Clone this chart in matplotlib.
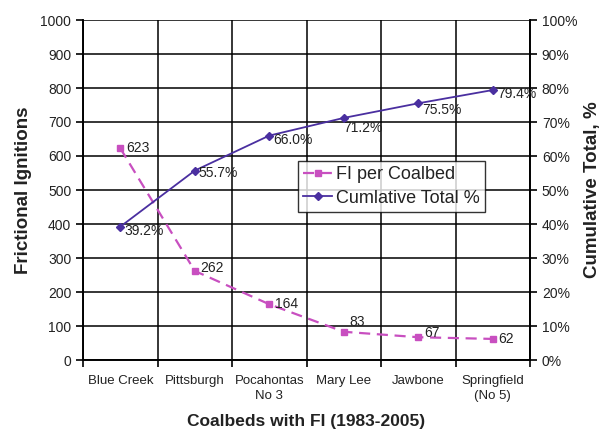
import matplotlib
matplotlib.use("Agg")
import matplotlib.pyplot as plt
from matplotlib.ticker import FixedLocator, FuncFormatter

plt.rcParams['font.family'] = ['Liberation Sans', 'DejaVu Sans']

categories = ["Blue Creek", "Pittsburgh", "Pocahontas\nNo 3", "Mary Lee", "Jawbone", "Springfield\n(No 5)"]
fi_per_coalbed = [623, 262, 164, 83, 67, 62]
cumulative_pct = [39.2, 55.7, 66.0, 71.2, 75.5, 79.4]
left_ticks = [0, 100, 200, 300, 400, 500, 600, 700, 800, 900, 1000]
right_ticks = [0, 10, 20, 30, 40, 50, 60, 70, 80, 90, 100]

pink = '#c84fc0'
purple = '#4a2fa0'
txt = '#222222'

fig = plt.figure(figsize=(6.04, 4.38), dpi=100)
ax = fig.add_axes([83/604, 1 - 360/438, (530-83)/604, (360-20)/438])
ax2 = ax.twinx()

x = list(range(len(categories)))
l1, = ax.plot(x, fi_per_coalbed, color=pink, ls=(0, (5, 3)), lw=1.6,
              marker='s', ms=5, mfc=pink, mec=pink, label='FI per Coalbed')
l2, = ax2.plot(x, cumulative_pct, color=purple, ls='-', lw=1.3,
               marker='D', ms=4, mfc=purple, mec=purple, label='Cumlative Total %')

ax.set_xlim(-0.5, len(categories) - 0.5)
ax.set_ylim(0, 1000)
ax2.set_ylim(0, 100)

ax.yaxis.set_major_locator(FixedLocator(left_ticks))
ax2.yaxis.set_major_locator(FixedLocator(right_ticks))
ax2.yaxis.set_major_formatter(FuncFormatter(lambda v, p: f"{int(v)}%"))

ax.set_xticks(x)
ax.set_xticklabels(categories, fontsize=9.5, color=txt, linespacing=1.35)
ax.set_xticks([i + 0.5 for i in range(-1, len(categories))], minor=True)
ax.tick_params(axis='x', which='major', length=0, pad=11)
ax.tick_params(axis='x', which='minor', length=5, width=1.2, direction='out', color='black')
ax.tick_params(axis='y', which='major', length=5, width=1.2, direction='out', labelsize=10, labelcolor=txt)
ax2.tick_params(axis='y', which='major', length=5, width=1.2, direction='out', labelsize=10, labelcolor=txt)

ax.grid(True, axis='y', which='major', color='black', lw=1.1)
ax.grid(True, axis='x', which='minor', color='black', lw=1.1)
ax.set_axisbelow(True)

for a in (ax, ax2):
    for s in a.spines.values():
        s.set_color('black')
        s.set_linewidth(1.2)
    a.spines['top'].set_visible(False)

ax.set_ylabel('Frictional Ignitions', fontsize=13.5, fontweight='bold', color=txt, labelpad=6)
ax2.set_ylabel('Cumulative Total, %', fontsize=13.5, fontweight='bold', color=txt, labelpad=5)
ax.set_xlabel('Coalbeds with FI (1983-2005)', fontsize=12.5, fontweight='bold', color=txt, labelpad=8)

# data labels
fi_offsets = [(4, 0), (4, 2), (4, 0), (4, 7), (4, 3), (4, 0)]
for xi, v, off in zip(x, fi_per_coalbed, fi_offsets):
    ax.annotate(str(v), (xi, v), xytext=off, textcoords='offset points',
                ha='left', va='center', fontsize=10, color=txt)
pct_offsets = [(3, -3), (3, -2), (3, -3), (0, -7), (3, -5), (3, -3)]
for xi, v, off in zip(x, cumulative_pct, pct_offsets):
    ax2.annotate(f"{v:.1f}%", (xi, v), xytext=off, textcoords='offset points',
                 ha='left', va='center', fontsize=10, color=txt)

leg = fig.legend(handles=[l1, l2], loc='lower left', bbox_to_anchor=(298/604, 1 - 212/438),
                 borderaxespad=0, fontsize=13, frameon=True, fancybox=False,
                 handlelength=1.6, handletextpad=0.2, borderpad=0.3, labelspacing=0.35)
leg.get_frame().set_edgecolor('black')
leg.get_frame().set_linewidth(1.0)
for t in leg.get_texts():
    t.set_color(txt)

fig.savefig('out.png', dpi=100)
